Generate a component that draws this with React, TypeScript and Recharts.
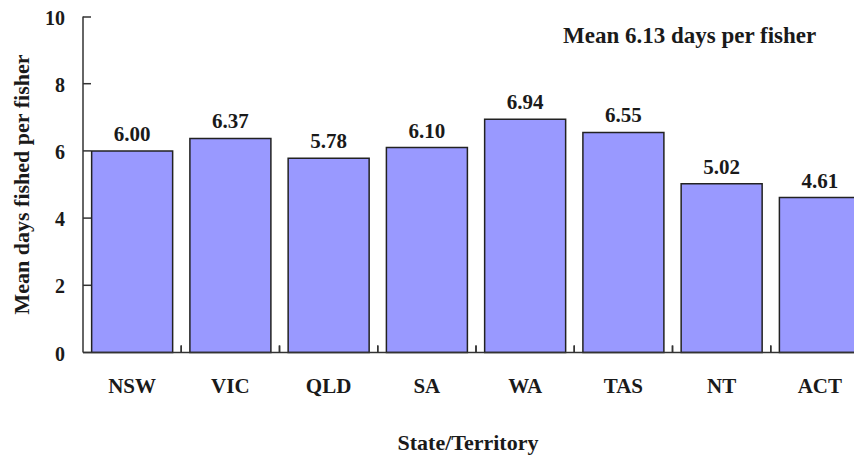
import { BarChart, Bar, XAxis, YAxis, LabelList } from "recharts";

const states = ["NSW", "VIC", "QLD", "SA", "WA", "TAS", "NT", "ACT"];
const meanDays = [6.0, 6.37, 5.78, 6.1, 6.94, 6.55, 5.02, 4.61];
const yTicks = [0, 2, 4, 6, 8, 10];

const data = states.map((state, i) => ({ state, days: meanDays[i] }));

const FONT = "'Liberation Serif', 'Times New Roman', serif";
const INK = "#1a1a1a";

function YTick(props: any) {
  const { x, y, payload } = props;
  return (
    <g>
      <line x1={x} x2={x + 8} y1={y} y2={y} stroke="#333" strokeWidth={1.5} />
      <text x={x - 18} y={y + 8} textAnchor="end" fontFamily={FONT} fontWeight="bold" fontSize={20} fill={INK}>
        {payload.value}
      </text>
    </g>
  );
}

function XTick(props: any) {
  const { x, y, payload, index } = props;
  const half = payload.offset ?? 49;
  return (
    <g>
      {index > 0 && (
        <line x1={x - half} x2={x - half} y1={y} y2={y - 7} stroke="#333" strokeWidth={1.5} />
      )}
      <line x1={x + half} x2={x + half} y1={y} y2={y - 7} stroke="#333" strokeWidth={1.5} />
      <text x={x} y={y + 40} textAnchor="middle" fontFamily={FONT} fontWeight="bold" fontSize={21} fill={INK}>
        {payload.value}
      </text>
    </g>
  );
}

export default function App() {
  return (
    <div style={{ position: "relative", width: 854, height: 450, overflow: "hidden" }}>
      <BarChart
        width={861}
        height={450}
        data={data}
        margin={{ top: 8.5, right: 0, bottom: 0, left: 0 }}
        barCategoryGap="8.8%"
      >
        <XAxis
          dataKey="state"
          height={105.5}
          tickSize={0}
          tickMargin={0}
          tickLine={false}
          tick={<XTick />}
          axisLine={{ stroke: "#333", strokeWidth: 1.5 }}
          label={{
            value: "State/Territory",
            position: "insideBottom",
            offset: 8,
            dx: -8,
            style: { fontFamily: FONT, fontWeight: "bold", fontSize: 22, fill: INK },
          }}
        />
        <YAxis
          width={75}
          domain={[0, 10]}
          ticks={yTicks}
          tickSize={0}
          tickMargin={0}
          tickLine={false}
          tick={<YTick />}
          axisLine={{ stroke: "#333", strokeWidth: 1.5 }}
          label={{
            value: "Mean days fished per fisher",
            angle: -90,
            position: "insideLeft",
            offset: 13,
            style: { textAnchor: "middle", fontFamily: FONT, fontWeight: "bold", fontSize: 22, fill: INK },
          }}
        />
        <Bar dataKey="days" fill="#9999FF" stroke="#222" strokeWidth={1.5} isAnimationActive={false}>
          <LabelList
            dataKey="days"
            position="top"
            offset={10}
            formatter={(v: any) => Number(v).toFixed(2)}
            style={{ fontFamily: FONT, fontWeight: "bold", fontSize: 21, fill: INK }}
          />
        </Bar>
      </BarChart>
      <div
        style={{
          position: "absolute",
          left: 555,
          top: 16,
          fontFamily: FONT,
          fontWeight: "bold",
          fontSize: 23,
          lineHeight: 1,
          color: INK,
          whiteSpace: "nowrap",
        }}
      >
        Mean 6.13 days per fisher
      </div>
    </div>
  );
}
